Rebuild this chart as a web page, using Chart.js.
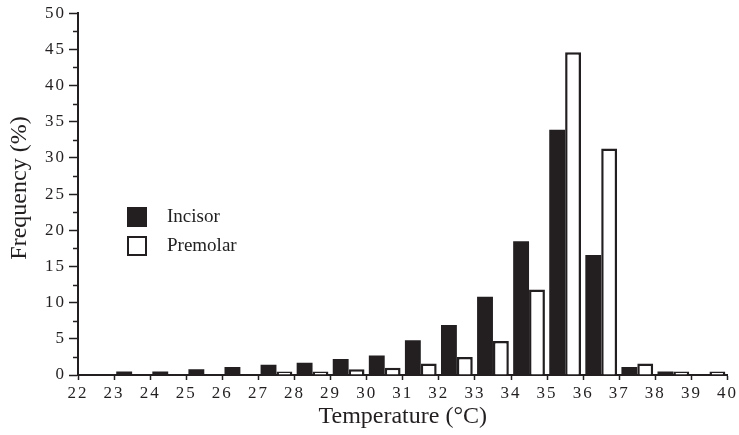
<!DOCTYPE html>
<html>
<head>
<meta charset="utf-8">
<script src="https://cdn.jsdelivr.net/npm/chart.js@4/dist/chart.umd.min.js"></script>
<style>
  body { margin: 0; background: #fff; }
  #wrap { position: relative; width: 739px; height: 435px; }
  .key { position: absolute; left: 127px; font: 19px 'Liberation Serif', serif; color: #222; }
  .key span { position: absolute; left: 0; width: 20px; height: 20px; box-sizing: border-box; }
  .key b { position: absolute; left: 40px; top: -1px; font-weight: normal; white-space: nowrap; line-height: 20px; }
</style>
</head>
<body>
<div id="wrap">
  <canvas id="chart" width="739" height="435"></canvas>
  <div class="key" style="top:207px"><span style="background:#231f20"></span><b>Incisor</b></div>
  <div class="key" style="top:236px"><span style="border:2px solid #231f20;background:#fff"></span><b>Premolar</b></div>
</div>
<script>
// temperature bins (lower edge, °C)
const bins = [22, 23, 24, 25, 26, 27, 28, 29, 30, 31, 32, 33, 34, 35, 36, 37, 38, 39];
const incisor = [0, 0.5, 0.5, 0.8, 1.1, 1.4, 1.7, 2.2, 2.7, 4.8, 6.9, 10.8, 18.5, 33.9, 16.6, 1.1, 0.5, 0];
const premolar = [0, 0, 0, 0, 0, 0.5, 0.5, 0.8, 1.0, 1.6, 2.5, 4.7, 11.8, 44.6, 31.3, 1.6, 0.5, 0.5];
const xTicks = [22, 40, 1];
const yTicks = [0, 50, 5];

const INK = '#231f20';
const FONT = "'Liberation Serif', serif";

/* spaced digits on the axes, like the printed figure */
const spacing = {
  id: 'spacing',
  beforeDraw(chart) { chart.ctx.letterSpacing = '2px'; },
};

/* short minor ticks between the labelled ones on y */
const minorTicks = {
  id: 'minorTicks',
  afterDraw(chart) {
    const { ctx, scales: { y } } = chart;
    ctx.save();
    ctx.strokeStyle = INK;
    ctx.lineWidth = 1.5;
    for (let v = yTicks[0] + yTicks[2] / 2; v < yTicks[1]; v += yTicks[2]) {
      const py = Math.round(y.getPixelForValue(v)) + 0.5;
      ctx.beginPath();
      ctx.moveTo(y.left + y.width - 5, py);
      ctx.lineTo(y.left + y.width, py);
      ctx.stroke();
    }
    ctx.restore();
  }
};

/* axis titles, drawn without the digit spacing */
const titles = {
  id: 'titles',
  afterDraw(chart) {
    const { ctx, chartArea: a } = chart;
    ctx.save();
    ctx.letterSpacing = '0px';
    ctx.fillStyle = INK;
    ctx.font = '24px ' + FONT;
    ctx.textAlign = 'center';
    ctx.textBaseline = 'middle';
    ctx.fillText('Temperature (°C)', (a.left + a.right) / 2, 417);
    ctx.translate(20, 188);
    ctx.rotate(-Math.PI / 2);
    ctx.fillText('Frequency (%)', 0, 0);
    ctx.restore();
  }
};

new Chart(document.getElementById('chart'), {
  type: 'bar',
  data: {
    datasets: [
      {
        label: 'Incisor',
        data: bins.map((b, i) => ({ x: b + 0.5, y: incisor[i] })),
        backgroundColor: INK,
        borderColor: INK,
        borderWidth: 0,
      },
      {
        label: 'Premolar',
        data: bins.map((b, i) => ({ x: b + 0.5, y: premolar[i] })),
        backgroundColor: '#fff',
        borderColor: INK,
        borderWidth: 2.5,
      }
    ]
  },
  options: {
    responsive: false,
    animation: false,
    events: [],
    categoryPercentage: 0.88,
    barPercentage: 1.0,
    layout: { padding: { top: 13, right: 8, left: 0, bottom: 0 } },
    plugins: { legend: { display: false }, tooltip: { enabled: false } },
    scales: {
      x: {
        type: 'linear',
        min: xTicks[0], max: xTicks[1],
        offset: false,
        afterFit(s) { s.height = 60; },
        ticks: { stepSize: xTicks[2], color: INK, font: { family: FONT, size: 17 }, padding: 3, maxRotation: 0, autoSkip: false },
        grid: { drawOnChartArea: false, offset: false, tickLength: 5, tickColor: INK, tickWidth: 1.5 },
        border: { color: INK, width: 2 },
      },
      y: {
        min: yTicks[0], max: yTicks[1],
        afterFit(s) { s.width = 78; },
        ticks: { stepSize: yTicks[2], color: INK, font: { family: FONT, size: 17 }, padding: 3 },
        grid: { drawOnChartArea: false, tickLength: 9, tickColor: INK, tickWidth: 1.5 },
        border: { color: INK, width: 2 },
      }
    }
  },
  plugins: [spacing, minorTicks, titles]
});
</script>
</body>
</html>
